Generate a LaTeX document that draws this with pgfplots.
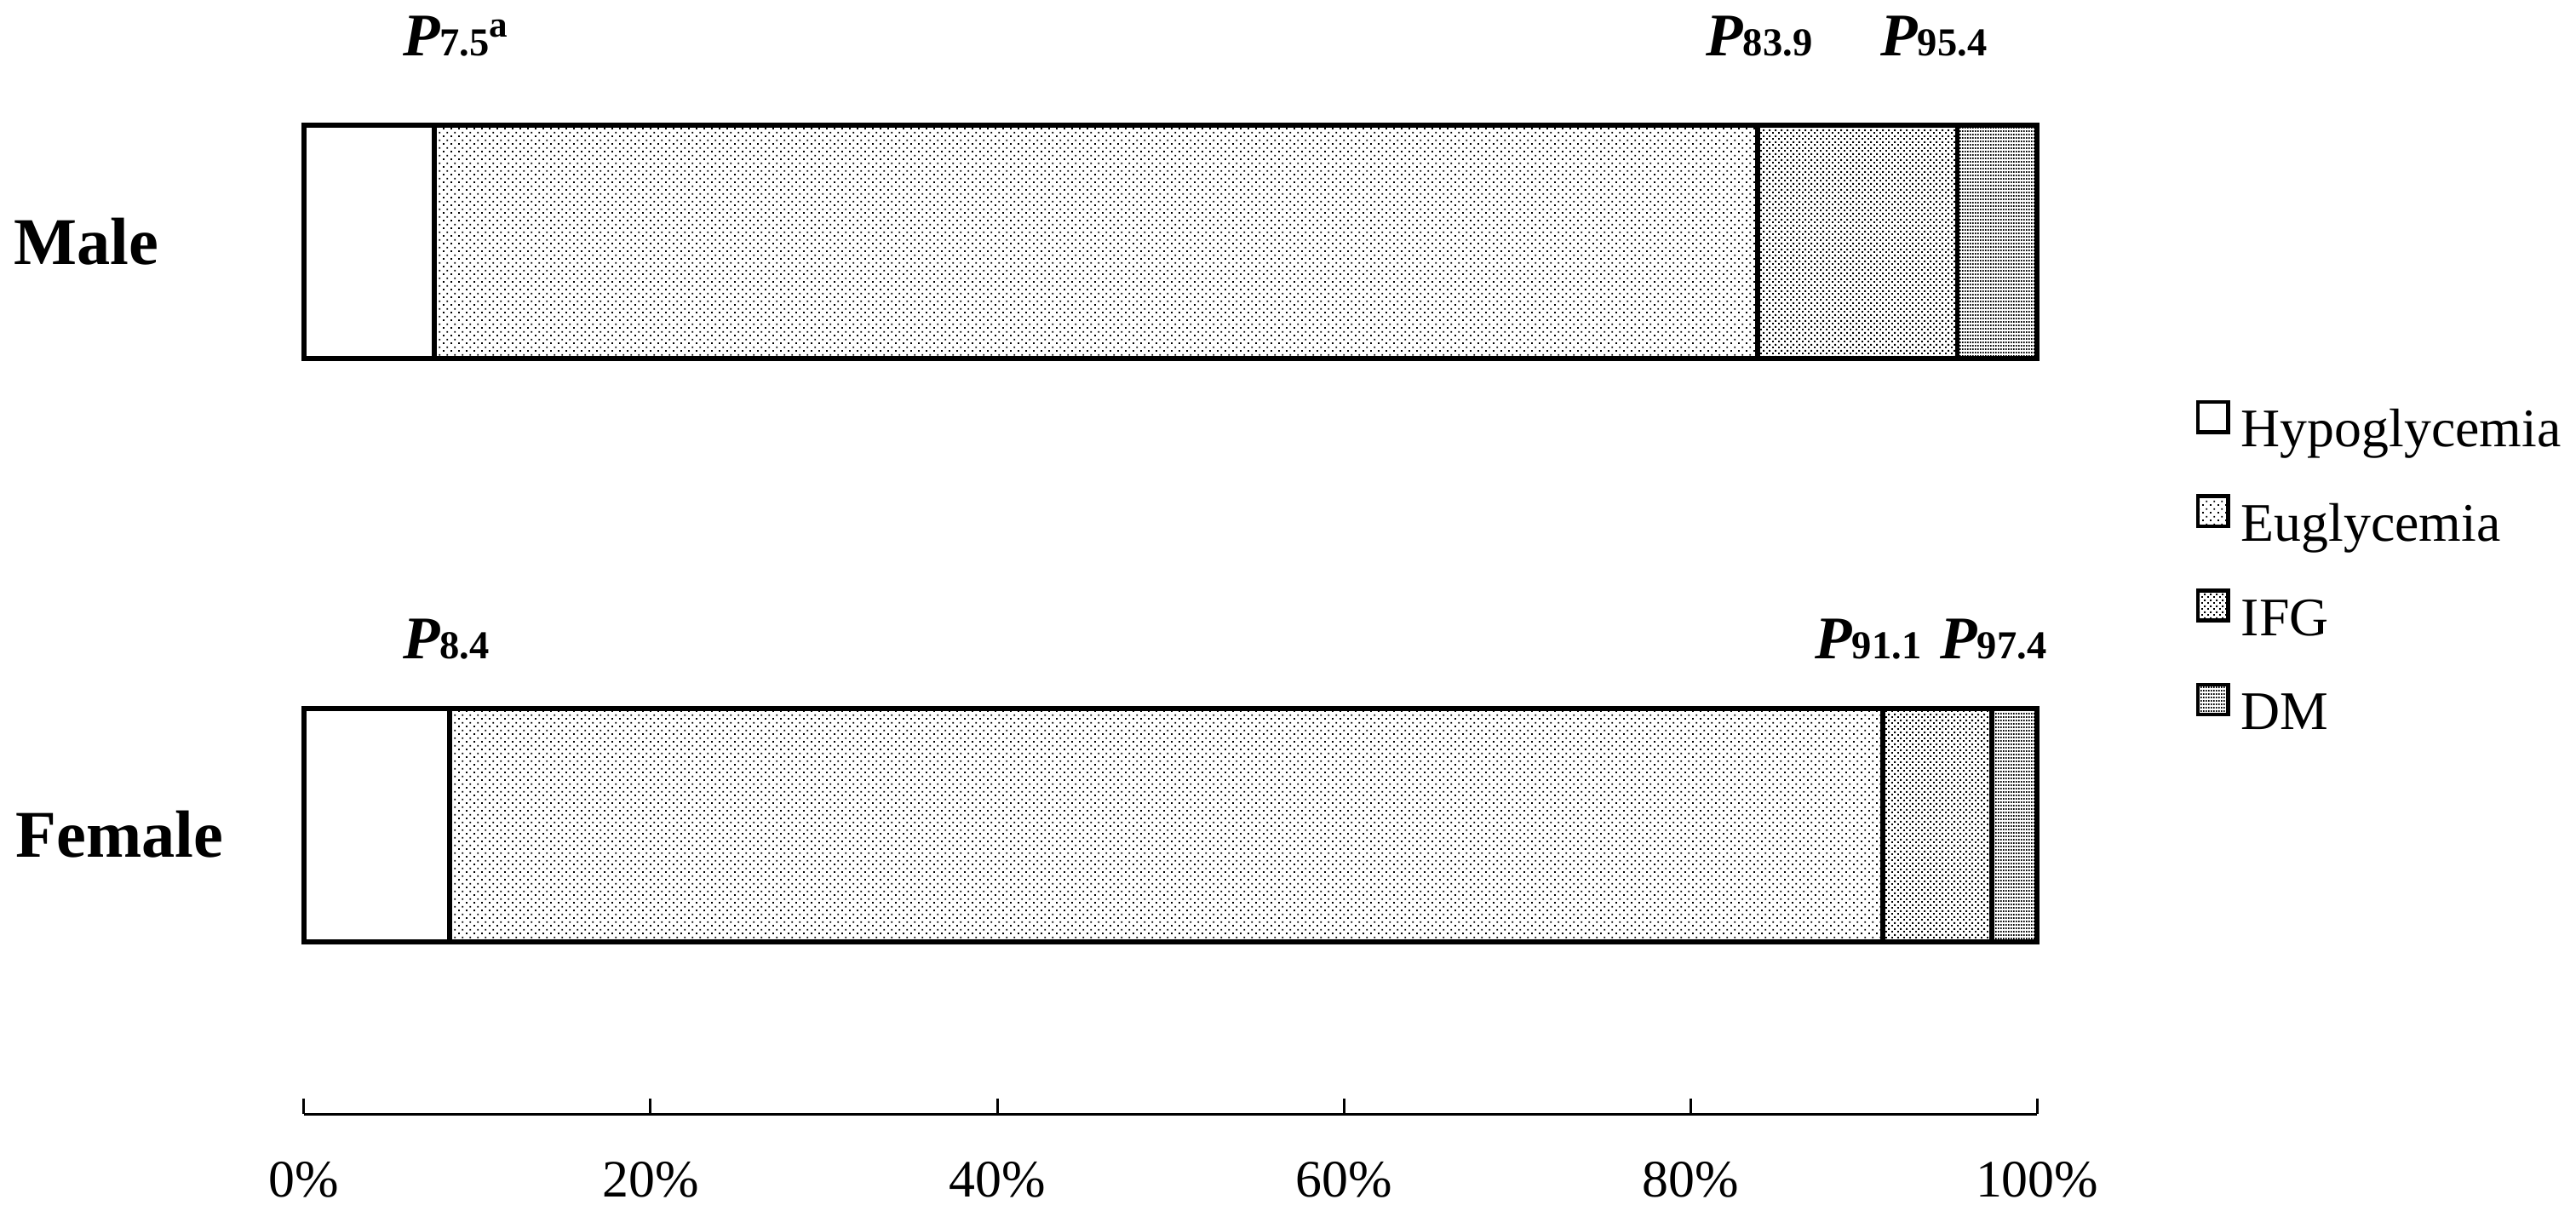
\documentclass[border=0pt]{standalone}
\usepackage{fontspec}
\setmainfont{Liberation Serif}
\usepackage{pgfplots}
\pgfplotsset{compat=1.18}
\usetikzlibrary{patterns}

\pgfdeclarepatternformonly{eugly}{\pgfpointorigin}{\pgfqpoint{1.4pt}{1.4pt}}{\pgfqpoint{1.4pt}{1.4pt}}{%
  \pgfpathrectangle{\pgfqpoint{0pt}{0pt}}{\pgfqpoint{0.3pt}{0.3pt}}%
  \pgfpathrectangle{\pgfqpoint{0.7pt}{0.7pt}}{\pgfqpoint{0.3pt}{0.3pt}}%
  \pgfusepath{fill}}
\pgfdeclarepatternformonly{ifg}{\pgfpointorigin}{\pgfqpoint{1.0pt}{1.0pt}}{\pgfqpoint{1.0pt}{1.0pt}}{%
  \pgfpathrectangle{\pgfqpoint{0pt}{0pt}}{\pgfqpoint{0.3pt}{0.3pt}}%
  \pgfpathrectangle{\pgfqpoint{0.5pt}{0.5pt}}{\pgfqpoint{0.3pt}{0.3pt}}%
  \pgfusepath{fill}}
\pgfdeclarepatternformonly{dm}{\pgfpointorigin}{\pgfqpoint{0.5pt}{0.55pt}}{\pgfqpoint{0.5pt}{0.55pt}}{%
  \pgfpathrectangle{\pgfqpoint{0pt}{0pt}}{\pgfqpoint{0.3pt}{0.32pt}}%
  \pgfusepath{fill}}

\newcommand{\Plab}[1]{{\fontsize{10.7}{12}\selectfont\bfseries\itshape P}{\fontsize{7}{8}\selectfont\bfseries #1}}

\begin{document}
\begin{tikzpicture}
\begin{axis}[
  x=0.10763cm, y=3.623cm,
  xmin=0, xmax=100, ymin=-0.4956, ymax=1.40,
  xbar stacked, bar width=0.4,
  axis x line=bottom, axis y line=none,
  x axis line style={-, line width=0.45pt, black},
  xtick={0,20,40,60,80,100},
  xticklabels={0\%,20\%,40\%,60\%,80\%,100\%},
  xtick align=inside, major tick length=2.7pt,
  xtick style={line width=0.45pt, black},
  xticklabel style={font=\fontsize{9.3}{11}\selectfont, yshift=-5pt},
  ytick=\empty,
  clip=false,
  legend cell align=left,
  legend image code/.code={\draw[#1, line width=0.7pt] (0pt,0.4pt) rectangle (5.3pt,5.7pt);},
  legend style={draw=none, fill=none, at={(axis cs:109.1,0.4336)}, anchor=west,
    font=\fontsize{9.6}{11}\selectfont, inner sep=0pt,
    nodes={inner sep=0pt, text height=7pt, text depth=2.5pt},
    row sep=5.85pt, column sep=2pt},
]
\addplot[fill=white, draw=black, line width=0.9pt] coordinates {(8.4,0) (7.5,1)};
\addplot[pattern=eugly, draw=black, line width=0.9pt] coordinates {(82.7,0) (76.4,1)};
\addplot[pattern=ifg, draw=black, line width=0.9pt] coordinates {(6.3,0) (11.5,1)};
\addplot[pattern=dm, draw=black, line width=0.9pt] coordinates {(2.6,0) (4.6,1)};
\legend{Hypoglycemia, Euglycemia, IFG, DM}

\node[anchor=base west, inner sep=0pt, font=\fontsize{11.8}{13}\selectfont\bfseries] at (axis cs:-16.8,0.961) {Male};
\node[anchor=base west, inner sep=0pt, font=\fontsize{11.8}{13}\selectfont\bfseries] at (axis cs:-16.7,-0.056) {Female};

\node[anchor=base west, inner sep=0pt] at (axis cs:5.65,1.319) {\Plab{7.5}\raisebox{3.2pt}{\fontsize{6.5}{7}\selectfont\bfseries a}};
\node[anchor=base west, inner sep=0pt] at (axis cs:80.84,1.319) {\Plab{83.9}};
\node[anchor=base west, inner sep=0pt] at (axis cs:90.91,1.319) {\Plab{95.4}};
\node[anchor=base west, inner sep=0pt] at (axis cs:5.65,0.285) {\Plab{8.4}};
\node[anchor=base west, inner sep=0pt] at (axis cs:87.13,0.285) {\Plab{91.1}};
\node[anchor=base west, inner sep=0pt] at (axis cs:94.35,0.285) {\Plab{97.4}};

\coordinate (bbll) at (axis cs:-17.54,-0.6606);
\coordinate (bbur) at (axis cs:131.1,1.4139);
\end{axis}
\pgfresetboundingbox
\useasboundingbox (bbll) rectangle (bbur);
\end{tikzpicture}
\end{document}
